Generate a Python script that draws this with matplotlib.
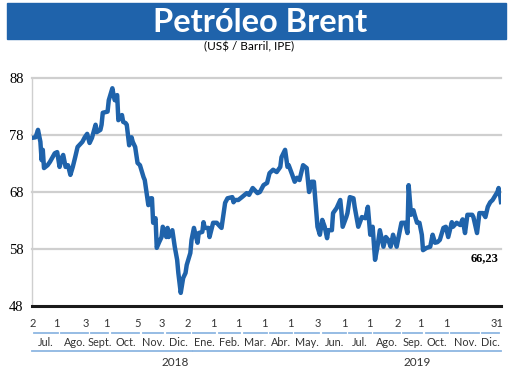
import matplotlib.pyplot as plt
from matplotlib.patches import Rectangle

# trading day index (0 = 2 Jul 2018 ... 391 = 31 Dec 2019) and Brent price, US$/barrel
day = [0, 3, 5, 7, 8, 9, 10, 13, 15, 19, 21, 23, 25, 26, 28, 30, 32, 34, 36, 38,
       42, 44, 46, 48, 50, 53, 54, 57, 58, 59, 63, 64, 67, 68, 69, 71, 72, 75, 76, 78,
       79, 81, 83, 84, 86, 88, 90, 93, 94, 96, 97, 99, 100, 101, 103, 104, 106, 108, 109, 112,
       113, 114, 117, 118, 119, 121, 122, 124, 126, 128, 129, 132, 133, 135, 138, 139, 142, 143, 144, 147,
       148, 151, 154, 157, 158, 161, 163, 167, 168, 169, 172, 175, 179, 181, 184, 188, 190, 193, 196, 198,
       201, 204, 207, 208, 211, 213, 214, 217, 219, 221, 223, 226, 229, 231, 233, 235, 236, 238, 240, 242,
       244, 246, 247, 250, 251, 254, 257, 258, 259, 262, 263, 265, 268, 269, 272, 275, 278, 280, 282, 284,
       286, 288, 290, 293, 295, 297, 299, 301, 304, 306, 308, 311, 313, 314, 316, 318, 319, 321, 323, 325,
       326, 329, 332, 334, 336, 338, 340, 343, 345, 347, 350, 351, 354, 357, 359, 361, 363, 367, 368, 371,
       373, 376, 378, 380, 382, 384, 388, 389, 390, 391]
price = [77.5, 77.6, 78.9, 76.8, 73.6, 75.4, 72.2, 72.7, 73.3, 74.8, 75.0, 72.4, 74.1, 74.5, 72.4, 72.7, 71.0, 72.4, 74.1, 75.9,
         76.8, 77.6, 78.2, 76.6, 77.5, 79.8, 78.5, 78.9, 79.8, 81.9, 82.1, 84.1, 86.2, 85.0, 84.1, 85.0, 80.6, 81.5, 80.3, 80.1,
         79.8, 76.2, 77.6, 76.8, 75.9, 73.1, 72.7, 70.6, 70.1, 67.1, 65.7, 66.9, 66.9, 62.6, 63.4, 58.2, 59.2, 60.1, 61.9, 60.1,
         61.7, 60.1, 61.3, 59.9, 58.4, 56.1, 53.8, 50.3, 52.9, 53.8, 55.2, 57.3, 59.6, 61.7, 59.1, 60.8, 61.0, 62.7, 61.7, 61.7,
         60.1, 62.6, 62.6, 61.9, 61.7, 66.1, 66.9, 67.1, 66.2, 66.6, 66.6, 67.1, 67.8, 67.5, 68.7, 67.8, 68.0, 69.2, 69.6, 71.3,
         71.9, 71.5, 72.4, 74.1, 75.4, 72.4, 72.7, 71.0, 69.8, 70.5, 70.1, 72.7, 72.2, 68.0, 69.8, 69.8, 67.1, 61.9, 60.5, 63.1,
         61.9, 59.9, 61.3, 61.3, 64.3, 65.2, 66.6, 64.5, 61.9, 63.6, 64.3, 67.1, 66.9, 65.4, 61.9, 63.6, 63.4, 65.4, 60.5, 61.9,
         56.1, 58.4, 61.3, 58.4, 60.1, 59.6, 58.4, 60.5, 58.4, 60.5, 62.6, 62.6, 60.8, 69.2, 64.0, 64.8, 64.0, 62.6, 62.6, 60.5,
         57.8, 58.2, 58.4, 60.5, 59.1, 59.2, 59.6, 61.7, 61.9, 60.1, 62.7, 61.9, 62.6, 62.2, 63.2, 60.8, 64.0, 64.0, 63.6, 60.8,
         64.3, 64.3, 63.6, 65.4, 66.2, 66.6, 68.0, 68.7, 67.8, 66.23]

month_names = ["Jul.", "Ago.", "Sept.", "Oct.", "Nov.", "Dic.", "Ene.", "Feb.", "Mar.",
               "Abr.", "May.", "Jun.", "Jul.", "Ago.", "Sep.", "Oct.", "Nov.", "Dic."]
month_start = [0, 23, 48, 65, 91, 111, 133, 154, 175, 197, 218, 241, 263, 284, 308, 327, 348, 374]
first_day = ["2", "1", "3", "1", "5", "3", "2", "1", "1", "1", "1", "3", "1", "1", "2", "1", "1", ""]
last_day = 391
last_day_label = "31"
years = ["2018", "2019"]
year_first_month = [0, 6]
y_ticks = [48, 58, 68, 78, 88]
last_label = "66,23"

blue = "#1f63ab"
light = "#8db6e2"

fig = plt.figure(figsize=(5.2, 3.8), dpi=100)
ax = fig.add_axes([32 / 520, 74 / 380, 469 / 520, 228 / 380])

# title banner
fig.patches.append(Rectangle((7 / 520, 341 / 380), 499 / 520, 36 / 380,
                             transform=fig.transFigure, color=blue, zorder=0))
fig.text(260 / 520, 358 / 380, "Petróleo Brent", color="white", fontsize=23.5,
         fontweight="bold", family="Lato", ha="center", va="center")
fig.text(249 / 520, 333 / 380, "(US$ / Barril, IPE)", fontsize=8.5,
         family="Lato", ha="center", va="center")

ax.plot(day, price, color=blue, lw=3.2, solid_joinstyle="round", zorder=3)

ax.set_xlim(0, last_day)
ax.set_ylim(48, 88)
ax.set_yticks(y_ticks)
ax.set_yticklabels([str(t) for t in y_ticks], family="Liberation Serif", fontsize=10.5)
ax.tick_params(axis="y", length=0, pad=6)
ax.set_xticks([])
for t in y_ticks[1:]:
    ax.axhline(t, color="#cfcfcf", lw=1.6, zorder=1, clip_on=False)

for s in ["top", "right"]:
    ax.spines[s].set_visible(False)
ax.spines["left"].set_color("#cfcfcf")
ax.spines["left"].set_linewidth(1)
ax.spines["bottom"].set_color("#1a1a1a")
ax.spines["bottom"].set_linewidth(2.2)

ax.text(last_day - 2, 56.4, last_label, family="Liberation Serif", fontweight="bold",
        fontsize=9, ha="right", va="center")

# month axis below the chart
tr = ax.get_xaxis_transform()
small = "Lato"
txt = "#333333"
bounds = month_start + [last_day]
for i, name in enumerate(month_names):
    a, b = bounds[i], bounds[i + 1]
    ax.plot([a + 1.5, b - 1.5], [-0.118, -0.118], transform=tr, color=light,
            lw=1.3, clip_on=False)
    ax.text((a + b) / 2, -0.158, name, transform=tr, family=small, fontsize=7.8,
            ha="center", va="center", color=txt)
    if first_day[i]:
        ax.text(max(a - 3, 0.5), -0.0746, first_day[i], transform=tr, family=small,
                fontsize=8, ha="center", va="center", color=txt)
ax.text(last_day - 3, -0.0746, last_day_label, transform=tr, family=small,
        fontsize=8, ha="center", va="center", color=txt)

year_bounds = [month_start[m] for m in year_first_month] + [last_day]
year_label_x = [119, 321]
for i, yr in enumerate(years):
    a, b = year_bounds[i], year_bounds[i + 1]
    ax.plot([a + 1.5 if i else a, b], [-0.197, -0.197], transform=tr, color=light,
            lw=1.3, clip_on=False)
    ax.text(year_label_x[i], -0.246, yr, transform=tr, family=small, fontsize=8.5,
            ha="center", va="center", color=txt)

fig.savefig("out.png", dpi=100)
